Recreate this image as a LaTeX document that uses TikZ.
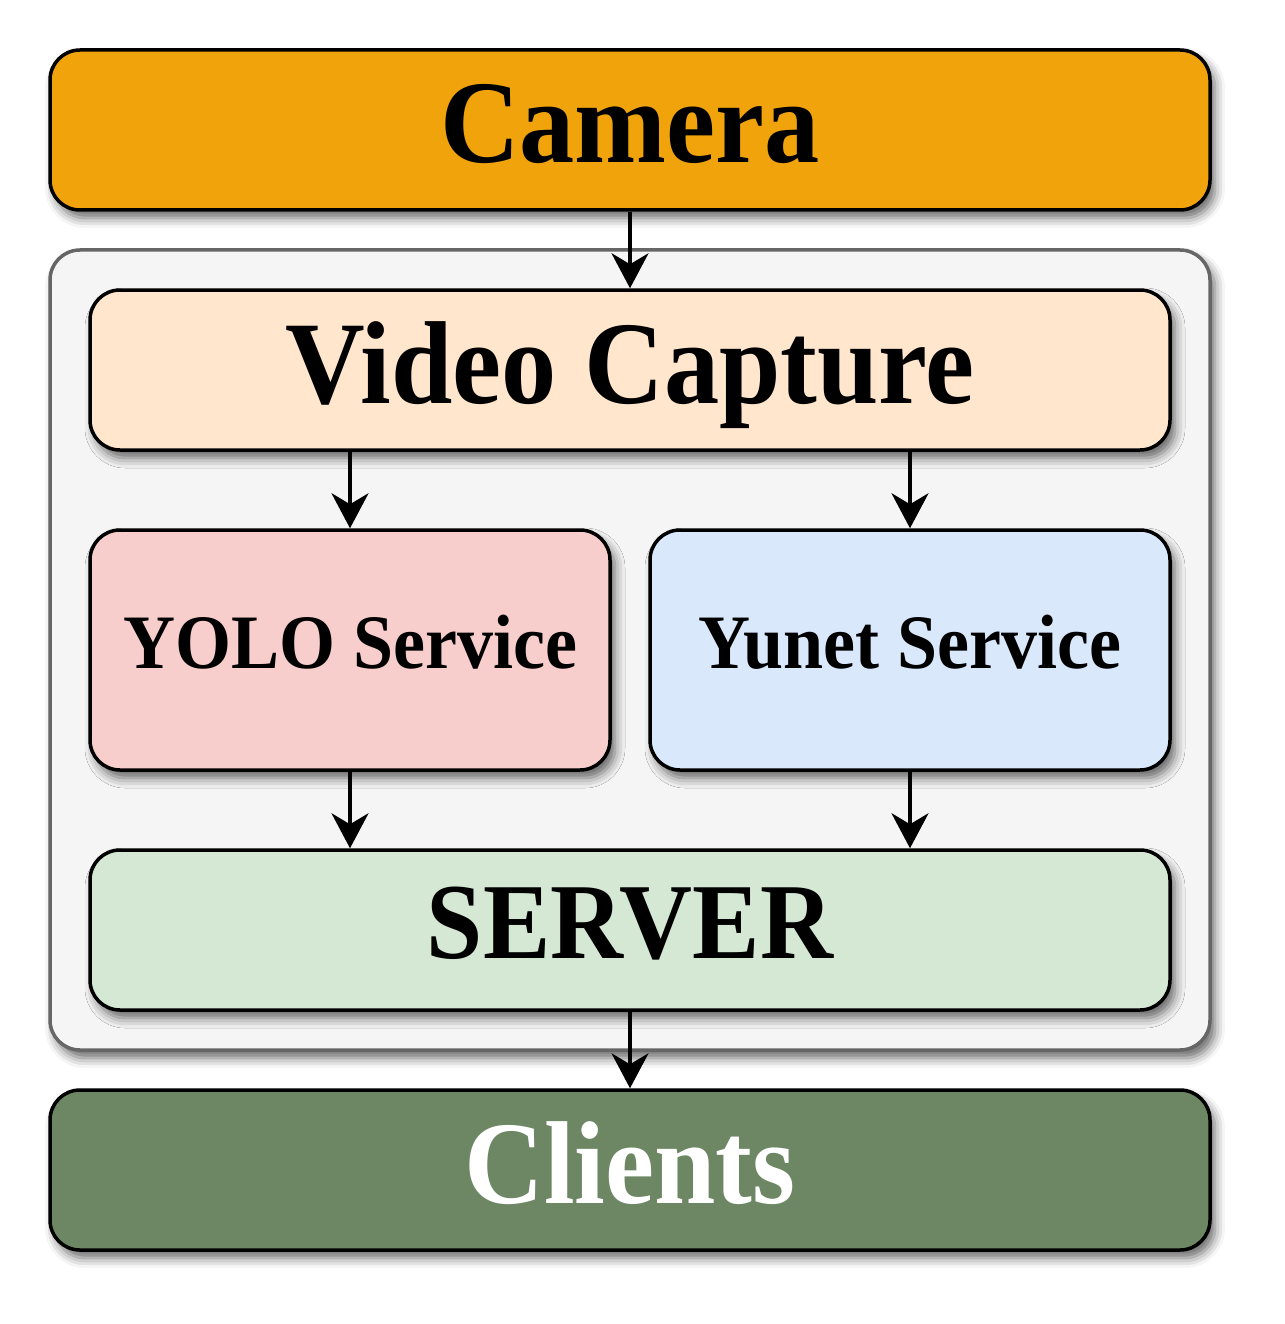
\documentclass[tikz,border=0pt]{standalone}
\usepackage{fontspec}
\setmainfont{Liberation Serif}[FakeStretch=0.935]
\usetikzlibrary{arrows.meta, shadows.blur}

\definecolor{cameraorange}{HTML}{F0A30A}
\definecolor{capturepeach}{HTML}{FFE6CC}
\definecolor{yolopink}{HTML}{F8CECC}
\definecolor{yunetblue}{HTML}{DAE8FC}
\definecolor{servergreen}{HTML}{D5E8D4}
\definecolor{clientgreen}{HTML}{6D8764}
\definecolor{backendgrey}{HTML}{F5F5F5}
\definecolor{backendline}{HTML}{666666}

\begin{document}
\begin{tikzpicture}[x=1pt, y=-1pt,
  softshadow/.style={blur shadow={shadow xshift=5pt, shadow yshift=-8pt, shadow blur radius=10pt, shadow opacity=60}},
  box/.style={draw=black, line width=3.5pt, rounded corners=30pt, inner sep=0pt, softshadow},
  wide/.style={box, minimum width=1080pt, minimum height=160pt},
  service/.style={box, minimum width=520pt, minimum height=240pt, text height=138pt, text depth=102pt,
    font=\bfseries\fontsize{77}{77}\selectfont},
  bigtext/.style={font=\bfseries\fontsize{118}{118}\selectfont, text height=113pt, text depth=47pt},
  flow/.style={line width=3.5pt, -{Stealth[length=35pt, width=37pt, inset=11pt]}}]
\useasboundingbox (0,0) rectangle (1284,1324);
% Backend container
\node[box, draw=backendline, fill=backendgrey, minimum width=1160pt, minimum height=800pt] (backend) at (630,650) {};
% Camera and clients
\node[box, fill=cameraorange, minimum width=1160pt, minimum height=160pt, bigtext] (camera) at (630,130) {Camera};
\node[box, fill=clientgreen, minimum width=1160pt, minimum height=160pt, bigtext, text=white] (clients) at (630,1170) {Clients};
% Inner stages
\node[wide, fill=capturepeach, bigtext] (capture) at (630,370) {Video Capture};
\node[service, fill=yolopink] (yolo) at (350,650) {YOLO Service};
\node[service, fill=yunetblue] (yunet) at (910,650) {Yunet Service};
\node[wide, fill=servergreen, font=\bfseries\fontsize{108}{108}\selectfont, text height=108pt, text depth=52pt] (server) at (630,930) {SERVER};
% Arrows
\draw[flow] (camera.south) -- (capture.north);
\draw[flow] (capture.south -| yolo.north) -- (yolo.north);
\draw[flow] (capture.south -| yunet.north) -- (yunet.north);
\draw[flow] (yolo.south) -- (yolo.south |- server.north);
\draw[flow] (yunet.south) -- (yunet.south |- server.north);
\draw[flow] (server.south) -- (clients.north);
\end{tikzpicture}
\end{document}
